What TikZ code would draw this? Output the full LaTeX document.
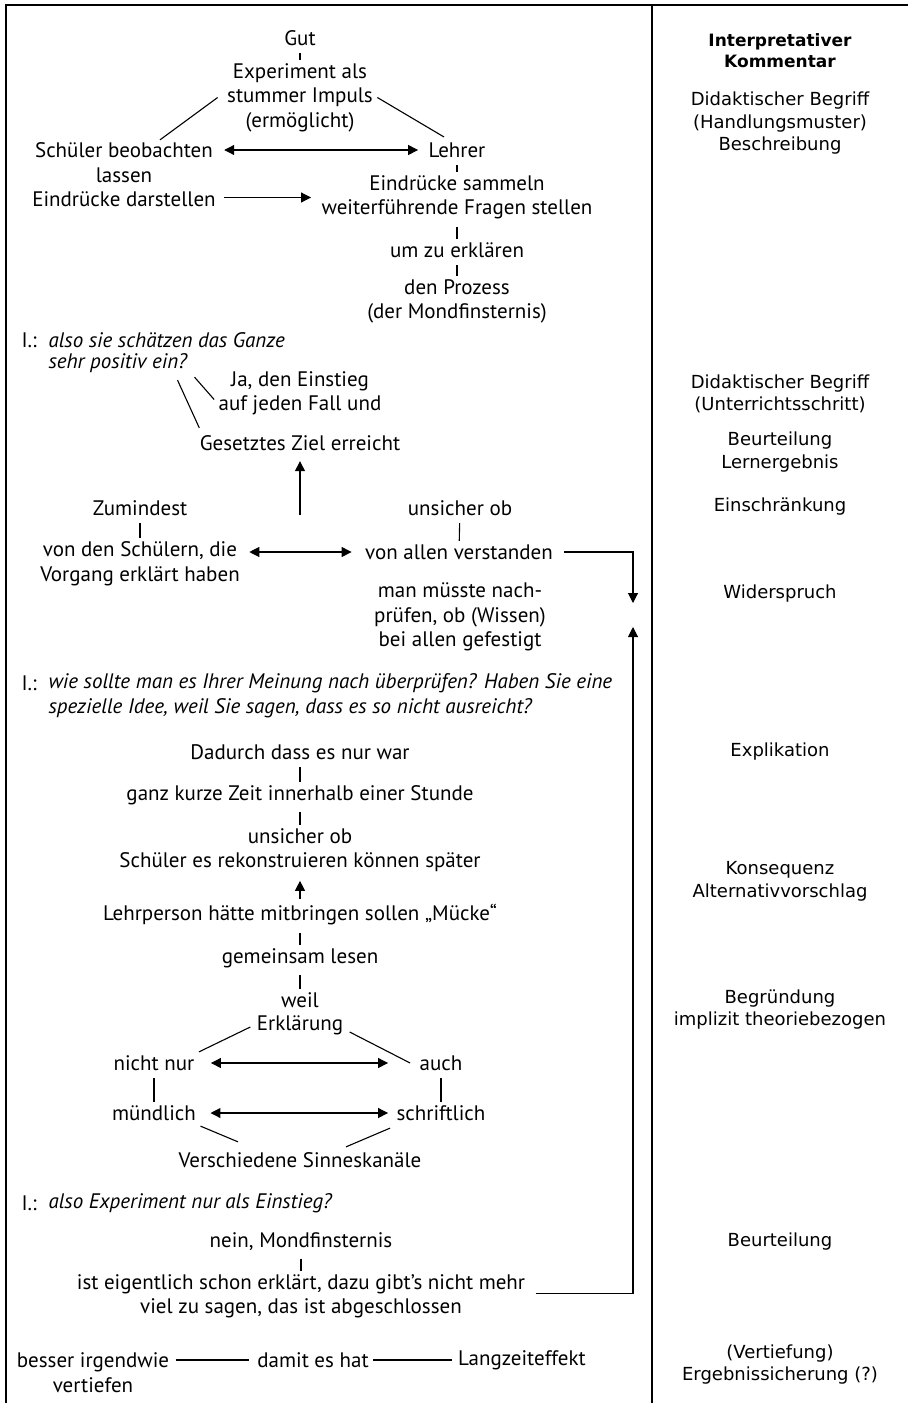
\documentclass[tikz,border=0pt]{standalone}
\usepackage{fontspec}
\setmainfont{PT Sans}
\newfontfamily\komfont{DejaVu Sans}
\usetikzlibrary{arrows.meta}
\tikzset{
  txt/.style={align=center, inner sep=0pt, font=\fontsize{21}{24.5}\selectfont},
  frage/.style={align=left, inner sep=0pt, anchor=west, font=\fontsize{21}{24.5}\selectfont\itshape},
  ilab/.style={inner sep=0pt, anchor=west, font=\fontsize{21}{24.5}\selectfont},
  kom/.style={align=center, inner sep=0pt, font=\komfont\fontsize{18}{22.5}\selectfont},
  kopf/.style={kom, font=\komfont\bfseries\fontsize{17}{21}\selectfont},
  tick/.style={shorten <=7pt, shorten >=3pt},
  pfeil/.style={-{Triangle[length=10pt,width=10pt]}},
  dpfeil/.style={{Triangle[length=10pt,width=10pt]}-{Triangle[length=10pt,width=10pt]}},
}
\begin{document}
\begin{tikzpicture}[x=1pt, y=-1pt, line width=1.1pt]
        \useasboundingbox (0, 0) rectangle (908, 1403);
        \draw[line width=2pt] (6, 1403) -- (6, 5) -- (908, 5);
        \draw[line width=2pt] (652, 5) -- (652, 1403);
        \node (gut) at (300, 38)[txt]{Gut};
        \node (exp) at (300, 97.5)[txt]{Experiment als\\stummer Impuls\\(ermöglicht)};
        \node (sch) at (124, 175)[txt]{Schüler beobachten\\lassen\\Eindrücke darstellen};
        \node (leh) at (457, 150)[txt]{Lehrer};
        \node (ein) at (457, 197.5)[txt]{Eindrücke sammeln\\weiterführende Fragen stellen};
        \node (umz) at (457, 250)[txt]{um zu erklären};
        \node (proz) at (457, 301.5)[txt]{den Prozess\\(der Mondfinsternis)};
        \draw ([xshift=-9pt]exp.west) -- ([xshift=36pt, yshift=2.5pt]sch.north);
        \draw ([xshift=4pt]exp.east) -- ([xshift=-13pt, yshift=5pt]leh.north);
        \draw[dpfeil, shorten <=8pt, shorten >=10pt] (leh.west -| sch.east) -- (leh.west);
        \draw[pfeil, shorten <=8pt, shorten >=10pt] (ein.west -| sch.east) -- (ein.west);
        \node (il1) at (21, 340)[ilab]{I.:};
        \node (q1a) at (48, 340)[frage]{also sie schätzen das Ganze};
        \node (q1b) at (48, 363)[frage]{sehr positiv ein?};
        \node (ja) at (300, 393.5)[txt]{Ja, den Einstieg\\auf jeden Fall und};
        \node (ziel) at (300, 443)[txt]{Gesetztes Ziel erreicht};
        \draw ([xshift=7pt, yshift=-4pt]q1b.south east) -- ([xshift=-4pt, yshift=-6pt]ja.west);
        \draw ([xshift=-10pt, yshift=-7pt]q1b.south east) -- ([yshift=7pt]ziel.north west);
        \coordinate (fuss) at (300, 515);
        \draw[pfeil, shorten >=10pt] (fuss) -- (ziel);
        \node (zum) at (140, 508)[txt]{Zumindest};
        \node (vds) at (140, 563.5)[txt]{von den Schülern, die\\Vorgang erklärt haben};
        \node (uob) at (460, 508)[txt]{unsicher ob};
        \node (vav) at (459, 552)[txt]{von allen verstanden};
        \node (man) at (460, 617)[txt]{man müsste nach-\\prüfen, ob (Wissen)\\bei allen gefestigt};
        \draw[dpfeil, shorten <=9pt, shorten >=13pt] (vav.west -| vds.east) -- (vav.west);
        \coordinate (wtop) at (633, 603);
        \coordinate (wbot) at (633, 627);
        \draw[pfeil, shorten <=11pt] (vav.east) -| (wtop);
        \node (il2) at (21, 683)[ilab]{I.:};
        \node (q2) at (48, 695.5)[frage]{wie sollte man es Ihrer Meinung nach überprüfen? Haben Sie eine\\spezielle Idee, weil Sie sagen, dass es so nicht ausreicht?};
        \node (dad) at (300, 752)[txt]{Dadurch dass es nur war};
        \node (gkz) at (300, 795)[txt]{ganz kurze Zeit innerhalb einer Stunde};
        \node (uob2) at (300, 850)[txt]{unsicher ob\\Schüler es rekonstruieren können später};
        \node (lehr) at (300, 915)[txt]{Lehrperson hätte mitbringen sollen „Mücke“};
        \node (gem) at (300, 958)[txt]{gemeinsam lesen};
        \node (weil) at (300, 1000)[txt]{weil};
        \node (erk) at (300, 1025)[txt]{Erklärung};
        \draw[pfeil, shorten >=8.5pt] ([yshift=5pt]lehr.north) -- (uob2);
        \node (nn) at (154, 1063)[txt]{nicht nur};
        \node (auch) at (441, 1063)[txt]{auch};
        \node (mue) at (154, 1113)[txt]{mündlich};
        \node (sch2) at (441, 1113)[txt]{schriftlich};
        \node (vsk) at (300, 1160)[txt]{Verschiedene Sinneskanäle};
        \draw ([xshift=-6pt, yshift=-2pt]erk.west) -- ([xshift=4pt, yshift=3pt]nn.north east);
        \draw ([xshift=6pt, yshift=-7pt]erk.east) -- ([xshift=-9pt]auch.west);
        \draw[dpfeil, shorten <=16pt, shorten >=8pt] (nn.east) -- (nn.east -| sch2.west);
        \draw[dpfeil, shorten <=14pt, shorten >=8pt] (mue.east) -- (sch2.west);
        \draw ([xshift=4pt, yshift=-5pt]mue.south east) -- ([xshift=-62pt, yshift=10pt]vsk.north);
        \draw ([xshift=-6pt, yshift=-7pt]sch2.south west) -- ([xshift=46pt, yshift=5pt]vsk.north);
        \node (il3) at (21, 1203)[ilab]{I.:};
        \node (q3) at (48, 1203)[frage]{also Experiment nur als Einstieg?};
        \node (nein) at (301, 1242)[txt]{nein, Mondfinsternis};
        \node (ist) at (301, 1296.5)[txt]{ist eigentlich schon erklärt, dazu gibt’s nicht mehr\\viel zu sagen, das ist abgeschlossen};
        \draw[pfeil, shorten <=10pt] ([yshift=3pt]ist.east) -| (wbot);
        \node (bes) at (93, 1372.5)[txt]{besser irgendwie\\vertiefen};
        \node (dam) at (313, 1360)[txt]{damit es hat};
        \node (lang) at (522, 1360)[txt]{Langzeiteffekt};
        \draw[shorten <=6pt, shorten >=8pt] (dam.west -| bes.east) -- (dam.west);
        \draw[shorten <=4pt, shorten >=6pt] (dam.east) -- (lang.west);
        \foreach \a/\b in {gut/exp, leh/ein, ein/umz, umz/proz, zum/vds, uob/vav, dad/gkz, gkz/uob2, lehr/gem, gem/weil, nn/mue, auch/sch2, nein/ist}{
            \draw[tick] (\a) -- (\b);
        }
        \node (kopf) at (780, 51)[kopf]{Interpretativer\\Kommentar};
        \foreach \y/\t [count=\i] in {123.5/{Didaktischer Begriff\\(Handlungsmuster)\\Beschreibung},
            394/{Didaktischer Begriff\\(Unterrichtsschritt)}, 452/{Beurteilung\\Lernergebnis},
            507/{Einschränkung}, 594/{Widerspruch}, 752/{Explikation},
            881.5/{Konsequenz\\Alternativvorschlag}, 1009.5/{Begründung\\implizit theoriebezogen},
            1242/{Beurteilung}, 1364.5/{(Vertiefung)\\Ergebnissicherung (?)}}{
            \node (kom\i) at (780, \y)[kom]{\t};
        }
    \end{tikzpicture}
\end{document}
